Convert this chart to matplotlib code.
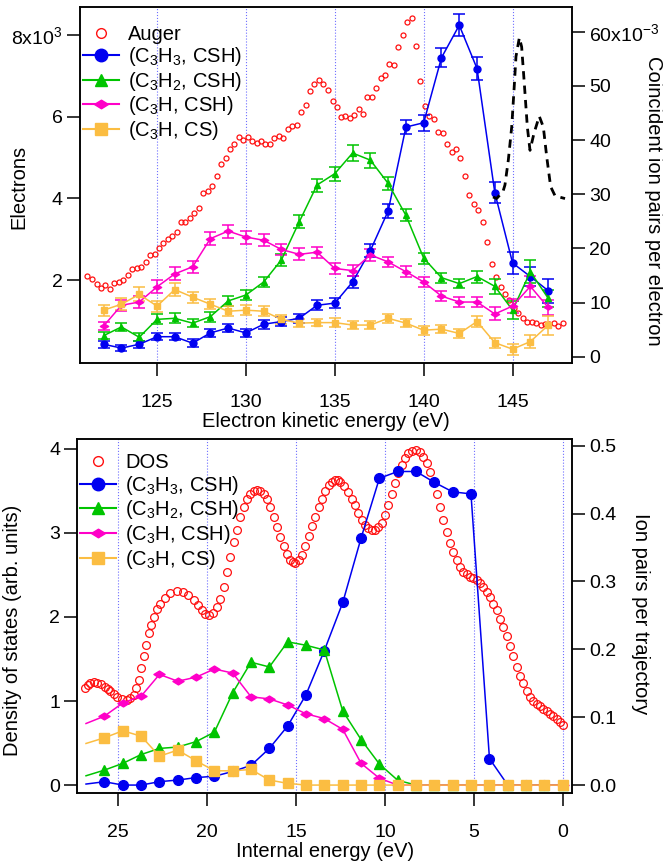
import numpy as np
import matplotlib
matplotlib.use("Agg")
import matplotlib.pyplot as plt
from matplotlib.lines import Line2D
from matplotlib.path import Path

plt.rcParams['font.family'] = ['Liberation Sans', 'DejaVu Sans']
plt.rcParams['mathtext.fontset'] = 'custom'
plt.rcParams['mathtext.rm'] = 'Liberation Sans'
plt.rcParams['mathtext.it'] = 'Liberation Sans:italic'
plt.rcParams['font.size'] = 14

# ---------------- top panel data ----------------
auger_e = [121.08, 121.34, 121.61, 121.87, 122.09, 122.36, 122.58, 122.85, 123.10, 123.35,
           123.61, 123.86, 124.12, 124.36, 124.60, 124.87, 125.11, 125.36, 125.60, 125.86,
           126.11, 126.35, 126.60, 126.86, 127.10, 127.36, 127.60, 127.85, 128.11, 128.36,
           128.60, 128.86, 129.10, 129.35, 129.61, 129.85, 130.10, 130.35, 130.61, 130.85,
           131.10, 131.36, 131.60, 131.86, 132.10, 132.35, 132.60, 132.86, 133.10, 133.36,
           133.60, 133.85, 134.10, 134.35, 134.60,
           134.88, 135.10, 135.33, 135.59, 135.85, 136.10, 136.34, 136.59, 136.83, 137.09,
           137.34, 137.58, 137.82, 138.07, 138.33, 138.57, 138.82, 139.06, 139.33, 139.57,
           139.81, 140.08, 140.32, 140.58, 140.82, 141.07, 141.33, 141.57, 141.80, 142.05,
           142.32, 142.56, 142.82, 143.07, 143.32, 143.58, 143.82, 144.07, 144.33, 144.57,
           144.81, 145.08, 145.32, 145.57, 145.83, 146.07, 146.32, 146.58, 146.82, 147.06,
           147.33, 147.57, 147.82]
# electrons, in units of 10^3
auger_v = [2.10, 2.02, 1.90, 1.81, 1.88, 1.77, 1.92, 1.96, 2.00, 2.12,
           2.26, 2.29, 2.33, 2.45, 2.61, 2.63, 2.78, 2.90, 3.00, 3.08,
           3.18, 3.42, 3.42, 3.53, 3.65, 3.76, 4.12, 4.18, 4.30, 4.55,
           4.83, 4.98, 5.21, 5.32, 5.49, 5.43, 5.51, 5.39, 5.36, 5.41,
           5.33, 5.33, 5.47, 5.53, 5.47, 5.69, 5.76, 5.80, 6.10, 6.29,
           6.63, 6.79, 6.90, 6.80, 6.64,
           6.37, 6.23, 6.00, 6.02, 5.96, 6.03, 6.19, 6.06, 6.49, 6.49,
           6.70, 6.94, 7.02, 7.29, 7.26, 7.69, 8.00, 8.31, 8.41, 7.73,
           6.87, 6.27, 6.02, 5.94, 5.63, 5.59, 5.33, 5.13, 5.21, 4.98,
           4.55, 4.08, 3.86, 3.72, 3.43, 2.94, 2.39, 2.08, 1.84, 1.66,
           1.51, 1.32, 1.19, 1.06, 0.98, 0.98, 0.96, 0.89, 0.92, 0.92,
           0.94, 0.88, 0.94]

ke = [122, 123, 124, 125, 126, 127, 128, 129, 130, 131, 132, 133, 134,
      135, 136, 137, 138, 139, 140, 141, 142, 143, 144, 145, 146, 147]
# coincident ion pairs per electron, units of 10^-3
c3h3_csh = [2.3, 1.6, 2.3, 3.7, 3.7, 2.5, 4.4, 5.3, 4.4, 6.0, 6.5, 7.1, 9.5,
            9.9, 13.8, 19.6, 26.9, 42.4, 43.2, 55.2, 61.2, 53.2, 30.3, 17.3, 14.8, 12.2]
c3h3_err = [0.6, 0.6, 0.6, 0.7, 0.7, 0.7, 0.8, 0.8, 0.8, 0.8, 0.8, 0.8, 0.9,
            0.9, 1.1, 1.2, 1.3, 1.3, 1.5, 1.8, 2.0, 2.1, 2.0, 2.0, 1.8, 2.2]
c3h2_csh = [3.9, 5.5, 3.6, 6.9, 7.1, 6.2, 7.4, 10.3, 11.4, 13.8, 17.9, 24.9, 31.7,
            33.8, 37.6, 36.3, 32.0, 26.1, 18.2, 14.6, 13.5, 14.8, 13.0, 8.6, 15.7, 10.8]
c3h2_err = [0.7, 0.8, 0.7, 0.9, 0.9, 0.8, 0.9, 1.0, 1.0, 1.0, 1.1, 1.2, 1.2,
            1.3, 1.5, 1.4, 1.2, 1.1, 1.0, 0.9, 0.9, 1.1, 1.4, 1.7, 2.1, 1.6]
c3h_csh = [5.7, 9.5, 10.1, 12.9, 15.3, 16.6, 21.8, 23.2, 22.1, 21.5, 19.8, 18.9, 19.3,
           16.3, 15.9, 18.8, 17.5, 15.7, 13.8, 11.2, 10.1, 10.1, 7.9, 9.35, 13.0, 9.1]
c3h_csh_err = [0.8, 1.0, 1.1, 1.2, 1.2, 1.1, 1.2, 1.2, 1.2, 1.1, 1.1, 1.1, 1.0,
               1.0, 1.0, 1.1, 1.0, 1.0, 1.0, 1.0, 1.0, 1.0, 1.2, 1.3, 1.9, 1.4]
c3h_cs = [8.6, 9.7, 11.5, 9.35, 12.4, 11.0, 9.7, 8.4, 8.6, 8.4, 6.9, 6.2, 6.3,
          6.3, 5.85, 5.85, 7.1, 6.2, 4.9, 5.1, 4.3, 6.5, 2.6, 1.4, 2.8, 5.8]
c3h_cs_err = [1.0, 1.1, 1.3, 1.0, 1.2, 1.0, 0.9, 0.9, 0.9, 0.9, 0.8, 0.8, 0.7,
              0.8, 0.8, 0.8, 0.8, 0.8, 0.8, 0.8, 0.8, 1.1, 0.9, 1.0, 1.2, 1.8]

dash_e = [143.9, 144.1, 144.46, 144.57, 144.76, 144.95, 145.08, 145.19, 145.38, 145.51,
          145.66, 145.83, 145.98, 146.2, 146.5, 146.73, 146.92, 147.14, 147.39, 147.95]
dash_v = [29.5, 29.2, 30.5, 31.7, 36.3, 42.4, 49.2, 55.4, 58.9, 57.2,
          50.4, 42.4, 38.1, 41.2, 44.4, 42.4, 36.9, 31.4, 29.7, 29.2]

# ---------------- bottom panel data ----------------
dos_e = [26.85, 26.71, 26.57, 26.38, 26.19, 25.96, 25.73, 25.58, 25.44, 25.25,
         25.07, 24.78, 24.50, 24.31, 24.13, 23.99, 23.85, 23.71, 23.57, 23.43,
         23.29, 23.14, 23.00, 22.81, 22.63, 22.35, 22.07, 21.71, 21.36, 21.05,
         20.75, 20.52, 20.29, 20.10, 19.91, 19.67, 19.44, 19.25, 19.07, 18.88,
         18.69, 18.50, 18.32, 18.13, 17.94, 17.75, 17.57, 17.38, 17.19, 17.00,
         16.82, 16.63, 16.44, 16.25, 16.07, 15.88, 15.69, 15.50, 15.32, 15.18,
         15.04, 14.85, 14.66, 14.47, 14.29, 14.10, 13.91, 13.72, 13.54, 13.35,
         13.16, 12.97, 12.79, 12.66, 12.53, 12.30, 12.06, 11.87, 11.68, 11.50,
         11.31, 11.12, 10.93, 10.75, 10.56, 10.37, 10.18, 10.00, 9.81, 9.62,
         9.43, 9.25, 9.06, 8.87, 8.68, 8.46, 8.25, 8.05, 7.84, 7.65,
         7.46, 7.28, 7.09, 6.91, 6.72, 6.53, 6.34, 6.15, 5.96, 5.78,
         5.59, 5.40, 5.21, 5.03, 4.84, 4.66, 4.47, 4.28, 4.09, 3.90,
         3.71, 3.53, 3.34, 3.15, 2.96, 2.78, 2.59, 2.41, 2.22, 2.03,
         1.84, 1.65, 1.46, 1.28, 1.09, 0.90, 0.71, 0.53, 0.34, 0.17, 0.00]
dos_v = [1.15, 1.19, 1.21, 1.225, 1.22, 1.20, 1.17, 1.145, 1.12, 1.085,
         1.05, 1.02, 1.01, 1.03, 1.07, 1.15, 1.25, 1.39, 1.53, 1.67,
         1.81, 1.91, 2.00, 2.09, 2.16, 2.23, 2.28, 2.31, 2.30, 2.26,
         2.20, 2.14, 2.08, 2.04, 2.02, 2.05, 2.12, 2.22, 2.36, 2.54,
         2.72, 2.89, 3.04, 3.19, 3.31, 3.40, 3.47, 3.50, 3.51, 3.50,
         3.47, 3.40, 3.31, 3.19, 3.07, 2.95, 2.84, 2.75, 2.68, 2.65,
         2.64, 2.68, 2.74, 2.84, 2.96, 3.08, 3.19, 3.31, 3.41, 3.50,
         3.57, 3.61, 3.63, 3.63, 3.61, 3.56, 3.49, 3.41, 3.33, 3.24,
         3.15, 3.10, 3.06, 3.04, 3.04, 3.07, 3.12, 3.21, 3.33, 3.46,
         3.59, 3.71, 3.81, 3.89, 3.95, 3.98, 3.99, 3.97, 3.91, 3.83,
         3.73, 3.61, 3.47, 3.31, 3.15, 3.01, 2.88, 2.77, 2.68, 2.60,
         2.54, 2.51, 2.48, 2.46, 2.44, 2.41, 2.36, 2.30, 2.24, 2.16,
         2.08, 1.98, 1.88, 1.77, 1.65, 1.53, 1.41, 1.30, 1.21, 1.12,
         1.05, 1.00, 0.97, 0.94, 0.91, 0.88, 0.85, 0.82, 0.79, 0.755, 0.72]

e_int = [26.81, 25.78, 24.74, 23.71, 22.68, 21.65, 20.62, 19.59, 18.56, 17.53,
         16.50, 15.47, 14.44, 13.41, 12.37, 11.34, 10.31, 9.28, 8.25, 7.22,
         6.19, 5.16, 4.12, 3.09, 2.06, 1.03, 0.00]
p_c3h3_csh = [0.0015, 0.0049, 0.0, 0.0, 0.005, 0.0074, 0.011, 0.013, 0.020, 0.029,
              0.054, 0.087, 0.133, 0.198, 0.269, 0.364, 0.452, 0.462, 0.462, 0.446,
              0.432, 0.429, 0.039, 0.0, 0.0, 0.0, 0.0]
p_c3h2_csh = [0.0137, 0.022, 0.032, 0.045, 0.054, 0.056, 0.064, 0.078, 0.136, 0.181,
              0.174, 0.211, 0.206, 0.199, 0.109, 0.067, 0.031, 0.007, 0.0, 0.0,
              0.0, 0.0, 0.0, 0.0, 0.0, 0.0, 0.0]
p_c3h_csh = [0.0907, 0.1015, 0.121, 0.131, 0.163, 0.153, 0.159, 0.171, 0.165, 0.130,
             0.127, 0.118, 0.105, 0.098, 0.082, 0.032, 0.010, 0.0, 0.0, 0.0,
             0.0, 0.0, 0.0, 0.0, 0.0, 0.0, 0.0]
p_c3h_cs = [0.0613, 0.0696, 0.080, 0.072, 0.0426, 0.0515, 0.0358, 0.021, 0.021, 0.023,
            0.0074, 0.0025, 0.0, 0.0, 0.0, 0.0, 0.0, 0.0, 0.0, 0.0,
            0.0, 0.0, 0.0, 0.0, 0.0, 0.0, 0.0]

labels = [r'(C$_3$H$_3$, CSH)', r'(C$_3$H$_2$, CSH)', r'(C$_3$H, CSH)', r'(C$_3$H, CS)']
colors = ['#0000f0', '#00c400', '#ff00c8', '#fbbd42']
wide_diamond = Path([(-1, 0), (0, 0.62), (1, 0), (0, -0.62), (-1, 0)],
                    [Path.MOVETO, Path.LINETO, Path.LINETO, Path.LINETO, Path.CLOSEPOLY])
markers = ['o', '^', wide_diamond, 's']

PX = 0.72  # points per pixel at dpi 100
FS = 14.5


def style_axes(ax, twin):
    for a in (ax, twin):
        for s in a.spines.values():
            s.set_linewidth(1.1)
        a.tick_params(direction='out', length=13 * PX, width=1.1, labelsize=14, pad=3)
    ax.tick_params(axis='x', pad=13)


def legend_handles():
    h = [Line2D([], [], ls='none', marker='o', ms=7, mfc='none', mec='#ff1010', mew=1.0)]
    for k in range(4):
        h.append(Line2D([], [], color=colors[k], lw=1.5, marker=markers[k],
                        ms=9 if k != 2 else 10, mfc=colors[k], mec=colors[k]))
    return h


fig = plt.figure(figsize=(6.63, 8.66), dpi=100)

# ================= top panel =================
ax1 = fig.add_axes([0.1207, 0.5808, 0.7420, 0.4111])
ax2 = ax1.twinx()
style_axes(ax1, ax2)

for xv in [125, 130, 135, 140, 145]:
    ax1.axvline(xv, color='#6f6fff', ls=':', lw=0.8, zorder=0)

ax1.plot(auger_e, auger_v, ls='none', marker='o', ms=3.6, mfc='none', mec='#ff1010', mew=0.9)

series_top = [(c3h3_csh, c3h3_err), (c3h2_csh, c3h2_err), (c3h_csh, c3h_csh_err), (c3h_cs, c3h_cs_err)]
for k in [3, 2, 1, 0]:
    yv, ye = series_top[k]
    ax2.errorbar(ke, yv, yerr=ye, fmt='none', ecolor=colors[k], elinewidth=1.1,
                 capsize=4.6, capthick=1.1, zorder=2 + k * 0.01)
    ms = 5.0 if k != 2 else 6.0
    ax2.plot(ke, yv, color=colors[k], lw=1.1, marker=markers[k], ms=ms, mec=colors[k],
             mfc=colors[k], zorder=3 + k * 0.01)
ax2.plot(dash_e, dash_v, color='black', lw=2.0, ls=(0, (3, 2.2)), zorder=4)

ax1.set_xlim(120.67, 148.34)
ax1.set_ylim(-0.03, 8.68)
ax2.set_ylim(-1.16, 64.56)
ax1.set_xticks([125, 130, 135, 140, 145])
ax1.set_yticks([2, 4, 6, 8])
ax1.set_yticklabels(['2', '4', '6', r'8x10$^3$'])
ax2.set_yticks([0, 10, 20, 30, 40, 50, 60])
ax2.set_yticklabels(['0', '10', '20', '30', '40', '50', r'60x10$^{-3}$'])
ax1.set_xlabel('Electron kinetic energy (eV)', fontsize=FS, labelpad=1)
ax1.set_ylabel('Electrons', fontsize=FS)
ax1.yaxis.set_label_coords(-0.106, 0.494)
ax2.set_ylabel('Coincident ion pairs per electron', fontsize=FS, rotation=270, va='center')
ax2.yaxis.set_label_coords(1.165, 0.455)

ax2.legend(legend_handles(), ['Auger'] + labels, loc='upper left', bbox_to_anchor=(-0.003, 0.962),
           frameon=False, fontsize=FS, handlelength=1.8, handletextpad=0.45,
           labelspacing=0.08, borderaxespad=0.0, borderpad=0.2)

# ================= bottom panel =================
ax3 = fig.add_axes([0.1166, 0.0846, 0.7461, 0.4081])
ax4 = ax3.twinx()
style_axes(ax3, ax4)

for xv in [25, 20, 15, 10, 5, 0]:
    ax3.axvline(xv, color='#6f6fff', ls=':', lw=0.8, zorder=0)

ax3.plot(dos_e, dos_v, ls='none', marker='o', ms=5.6, mfc='none', mec='#ff1010', mew=0.9)

series_bot = [p_c3h3_csh, p_c3h2_csh, p_c3h_csh, p_c3h_cs]
for k in range(4):
    ms = 7.0 if k != 2 else 8.0
    ax4.plot(e_int, series_bot[k], color=colors[k], lw=1.1, marker=markers[k], ms=ms,
             mec=colors[k], mfc=colors[k], markevery=slice(1, None), zorder=3 + k * 0.01)

ax3.set_xlim(27.3, -0.52)
ax3.set_ylim(-0.092, 4.115)
ax4.set_ylim(-0.0113, 0.5094)
ax3.set_xticks([25, 20, 15, 10, 5, 0])
ax3.set_yticks([0, 1, 2, 3, 4])
ax4.set_yticks([0.0, 0.1, 0.2, 0.3, 0.4, 0.5])
ax4.set_yticklabels(['0.0', '0.1', '0.2', '0.3', '0.4', '0.5'])
ax3.set_xlabel('Internal energy (eV)', fontsize=FS, labelpad=1)
ax3.set_ylabel('Density of states (arb. units)', fontsize=FS)
ax3.yaxis.set_label_coords(-0.112, 0.46)
ax4.set_ylabel('Ion pairs per trajectory', fontsize=FS, rotation=270, va='center')
ax4.yaxis.set_label_coords(1.139, 0.508)

ax4.legend(legend_handles(), ['DOS'] + labels, loc='upper left', bbox_to_anchor=(-0.003, 0.972),
           frameon=False, fontsize=FS, handlelength=1.8, handletextpad=0.45,
           labelspacing=0.08, borderaxespad=0.0, borderpad=0.2)

fig.savefig('out.png', dpi=100)
